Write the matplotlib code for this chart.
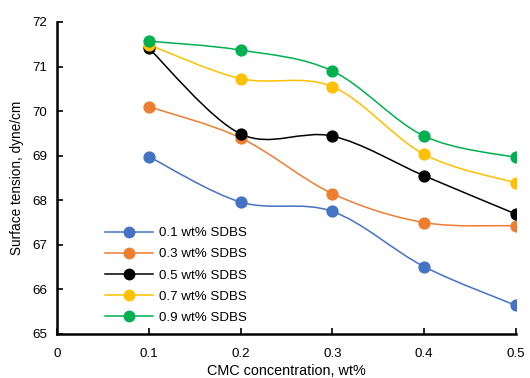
import numpy as np
import matplotlib
matplotlib.use("Agg")
import matplotlib.pyplot as plt
from matplotlib.path import Path
from matplotlib.patches import PathPatch
from matplotlib.lines import Line2D

plt.rcParams['font.family'] = ['Liberation Sans', 'DejaVu Sans']

# --- data ---
cmc = [0.1, 0.2, 0.3, 0.4, 0.5]
labels = ["0.1 wt% SDBS", "0.3 wt% SDBS", "0.5 wt% SDBS", "0.7 wt% SDBS", "0.9 wt% SDBS"]
sdbs_01 = [68.98, 67.96, 67.75, 66.51, 65.64]
sdbs_03 = [70.10, 69.40, 68.15, 67.50, 67.43]
sdbs_05 = [71.41, 69.49, 69.44, 68.55, 67.69]
sdbs_07 = [71.49, 70.73, 70.55, 69.03, 68.39]
sdbs_09 = [71.57, 71.37, 70.90, 69.44, 68.96]
colors = ["#4472C4", "#ED7D31", "#000000", "#FFC000", "#00B050"]


def smooth_path(x, y):
    # Excel style smoothed line: cubic bezier through each point
    pts = np.column_stack([x, y])
    n = len(pts)
    verts = [pts[0]]
    codes = [Path.MOVETO]
    for i in range(n - 1):
        p_prev = pts[i - 1] if i > 0 else pts[i]
        p_next2 = pts[i + 2] if i + 2 < n else pts[i + 1]
        c1 = pts[i] + (pts[i + 1] - p_prev) / 6
        c2 = pts[i + 1] - (p_next2 - pts[i]) / 6
        verts += [c1, c2, pts[i + 1]]
        codes += [Path.CURVE4] * 3
    return Path(verts, codes)


fig = plt.figure(figsize=(5.3, 3.78), dpi=100)
ax = fig.add_axes([57 / 530, 1 - 334 / 378, 459 / 530, 312 / 378])

series = [sdbs_01, sdbs_03, sdbs_05, sdbs_07, sdbs_09]
for vals, col in zip(series, colors):
    ax.add_patch(PathPatch(smooth_path(cmc, vals), facecolor='none',
                           edgecolor=col, lw=1.1, zorder=2))
    ax.plot(cmc, vals, linestyle='none', marker='o', markersize=7.8,
            color=col, markeredgecolor=col, zorder=3)

# legend handles with line + marker
handles = [Line2D([], [], color=c, lw=1.1, marker='o', markersize=7.5) for c in colors]
ax.legend(handles, labels, loc='upper left', bbox_to_anchor=(0.1046, 0.343),
          frameon=False, fontsize=9.6, handlelength=3.6, handletextpad=0.45,
          labelspacing=0.66, borderpad=0, borderaxespad=0)

ax.set_xlim(0, 0.5)
ax.set_ylim(65, 72)
ax.set_xticks([0, 0.1, 0.2, 0.3, 0.4, 0.5])
ax.set_xticklabels(["0", "0.1", "0.2", "0.3", "0.4", "0.5"])
ax.set_yticks(range(65, 73))
ax.tick_params(direction='in', length=4, width=1.2, labelsize=9.6)
ax.tick_params(axis='x', pad=10)
ax.tick_params(axis='y', pad=7)

for s in ['top', 'right']:
    ax.spines[s].set_visible(False)
for s in ['left', 'bottom']:
    ax.spines[s].set_linewidth(1.8)

ax.set_xlabel("CMC concentration, wt%", fontsize=10.4, labelpad=3)
ax.set_ylabel("Surface tension, dyne/cm", fontsize=9.8, labelpad=6)

fig.savefig("out.png", dpi=100)
